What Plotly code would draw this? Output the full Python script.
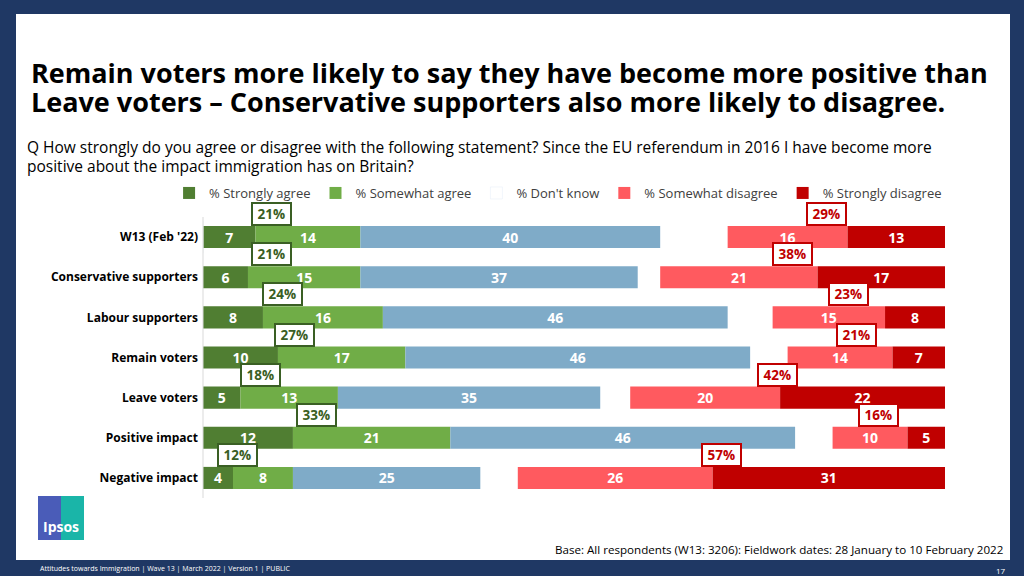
import plotly.graph_objects as go

cats = ["W13 (Feb '22)", "Conservative supporters", "Labour supporters", "Remain voters",
        "Leave voters", "Positive impact", "Negative impact"]
strong_agree = [7, 6, 8, 10, 5, 12, 4]
some_agree = [14, 15, 16, 17, 13, 21, 8]
dont_know = [40, 37, 46, 46, 35, 46, 25]
some_dis = [16, 21, 15, 14, 20, 10, 26]
strong_dis = [13, 17, 8, 7, 22, 5, 31]
agree_tot = ["21%", "21%", "24%", "27%", "18%", "33%", "12%"]
dis_tot = ["29%", "38%", "23%", "21%", "42%", "16%", "57%"]
RIGHT = 99

C_SA, C_WA, C_DK, C_WD, C_SD = "#507e32", "#70ad47", "#7fabc8", "#ff5a5f", "#c00000"
fig = go.Figure()
tf = dict(family="Open Sans", size=14, color="white")

def bar(name, vals, base, color, rank, show=True):
    fig.add_trace(go.Bar(y=cats, x=vals, base=base, orientation="h", name=name,
        marker=dict(color=color, line=dict(width=0)), text=vals, textposition="inside",
        texttemplate="<b>%{text}</b>", textangle=0, insidetextanchor="middle",
        constraintext="none", textfont=tf, width=0.55, showlegend=show, legendrank=rank))

b1 = [0]*7
b2 = strong_agree
b3 = [a+b for a, b in zip(strong_agree, some_agree)]
sd_base = [RIGHT - s for s in strong_dis]
wd_base = [RIGHT - s - w for s, w in zip(strong_dis, some_dis)]
bar("% Strongly agree", strong_agree, b1, C_SA, 1)
bar("% Somewhat agree", some_agree, b2, C_WA, 2)
bar("% Don't know", dont_know, b3, C_DK, 3, show=False)
bar("% Somewhat disagree", some_dis, wd_base, C_WD, 4)
bar("% Strongly disagree", strong_dis, sd_base, C_SD, 5)
fig.add_trace(go.Bar(y=[cats[0]], x=[0], name="% Don't know", orientation="h",
                     marker=dict(color="rgba(0,0,0,0)"), legendrank=3, hoverinfo="skip"))

ann = []
for i, c in enumerate(cats):
    ann.append(dict(x=b3[i]/2, y=c, text="<b> "+agree_tot[i]+" </b>", showarrow=False, yshift=23, xshift=-10,
        font=dict(family="Open Sans", size=13.5, color="#3a5f24"), bordercolor="#3a5f24",
        borderwidth=2, borderpad=1, bgcolor="white"))
    ann.append(dict(x=wd_base[i] + (RIGHT - wd_base[i])/2, y=c, text="<b> "+dis_tot[i]+" </b>",
        showarrow=False, yshift=23, xshift=-10, font=dict(family="Open Sans", size=13.5, color="#c00000"),
        bordercolor="#c00000", borderwidth=2, borderpad=1, bgcolor="white"))

def pt(x, y, text, size, color="black", bold=False, xa="left", ya="middle"):
    ann.append(dict(xref="paper", yref="paper", x=x/1024, y=1-y/576, text=("<b>%s</b>" % text) if bold else text,
        showarrow=False, xanchor=xa, yanchor=ya, align="left",
        font=dict(family="Open Sans", size=size, color=color)))

pt(29, 72, "Remain voters more likely to say they have become more positive than", 27, bold=True)
pt(29, 101, "Leave voters – Conservative supporters also more likely to disagree.", 27, bold=True)
pt(25, 147, "Q How strongly do you agree or disagree with the following statement? Since the EU referendum in 2016 I have become more", 15.5)
pt(25, 166, "positive about the impact immigration has on Britain?", 15.5)
pt(1005, 549, "Base: All respondents (W13: 3206): Fieldwork dates: 28 January to 10 February 2022", 11.6, xa="right")
pt(38, 568, "Attitudes towards Immigration | Wave 13 | March 2022 | Version 1 | PUBLIC", 7, color="white")
pt(1008, 570, "17", 8, color="white", xa="right")
pt(61, 526, "<b>Ipsos</b>", 14, color="white", xa="center")

shapes = [
    dict(type="rect", xref="paper", yref="paper", x0=16/1024, x1=1010/1024, y0=1-560/576, y1=1-14/576,
         fillcolor="white", line=dict(width=0), layer="below"),
    dict(type="rect", xref="paper", yref="paper", x0=38/1024, x1=84/1024, y0=1-540/576, y1=1-496/576,
         fillcolor="#4a5cb8", line=dict(width=0)),
    dict(type="rect", xref="paper", yref="paper", x0=61/1024, x1=84/1024, y0=1-540/576, y1=1-496/576,
         fillcolor="#1ab5a8", line=dict(width=0)),
    dict(type="line", xref="paper", yref="paper", x0=203/1024, x1=203/1024, y0=1-498/576, y1=1-217/576,
         line=dict(color="#d9d9d9", width=1)),
]

fig.update_layout(
    width=1024, height=576, barmode="overlay", paper_bgcolor="#1f3864", plot_bgcolor="white",
    margin=dict(l=0, r=0, t=0, b=0), annotations=ann, shapes=shapes,
    legend=dict(orientation="h", x=0.545, xanchor="center", y=1-193/576, yanchor="middle",
                font=dict(family="Open Sans", size=13, color="#404040"), bgcolor="rgba(0,0,0,0)",
                traceorder="normal", itemwidth=30),
    xaxis=dict(domain=[203/1024, 945/1024], range=[0, RIGHT], visible=False),
    yaxis=dict(domain=[1-498/576, 1-217/576], range=[6.5, -0.5], categoryorder="array",
               categoryarray=cats, tickfont=dict(family="Open Sans", size=12, color="black"),
               showgrid=False, ticks="", ticklabelstandoff=4,
               tickvals=cats, ticktext=["<b>%s</b>" % c for c in cats]),
    font=dict(family="Open Sans"),
)
fig.write_html("out.html", config={"displayModeBar": False},
               post_script="document.body.style.margin='0';document.body.style.overflow='hidden';")
